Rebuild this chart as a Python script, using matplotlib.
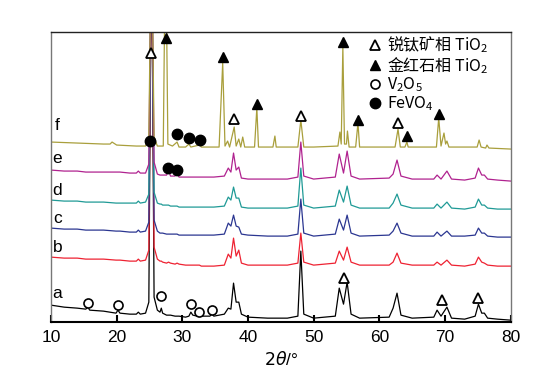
import numpy as np
import matplotlib
matplotlib.use('Agg')
import matplotlib.pyplot as plt
from matplotlib.lines import Line2D

plt.rcParams['font.family'] = ['Liberation Sans', 'Noto Sans CJK SC', 'DejaVu Sans']
plt.rcParams['mathtext.default'] = 'regular'

# 2theta grid shared by samples a-e (anatase pattern)
x_ana = [10, 12, 14, 15.3, 15.6, 15.9, 18, 19.9, 20.2, 20.5, 22, 23.0, 23.3, 23.6, 24.4, 24.9,
         25.3, 25.7, 26.2, 26.6, 26.8, 27.0, 27.6, 27.9, 28.2, 28.9, 29.2, 29.5, 30.5, 31.0,
         31.3, 31.6, 32.3, 32.6, 32.9, 34.2, 34.5, 34.8, 36.4, 37.0, 37.4, 37.8, 38.2, 38.6,
         39.0, 40, 43, 46, 47.6, 48.05, 48.5, 50, 53.3, 53.9, 54.55, 55.1, 55.7, 57, 61.5,
         62.1, 62.7, 63.3, 65, 68.3, 68.8, 69.4, 70.3, 71.0, 73, 74.6, 75.1, 75.6, 76.0,
         76.5, 78, 80]

y_a = [17, 15, 14, 13, 15, 12, 11, 9, 12, 9, 8, 8, 10, 8, 9, 20,
       400, 25, 12, 10, 14, 9, 7, 7, 7, 6, 6, 6, 5, 6,
       10, 7, 6, 8, 6, 6, 8, 6, 8, 14, 13, 39, 20, 20,
       8, 5, 4, 4, 6, 71, 8, 4, 6, 34, 18, 40, 8, 4, 5,
       14, 29, 7, 4, 5, 12, 6, 15, 4, 3, 6, 18, 9, 9,
       4, 3, 2]

y_b = [65, 64, 64, 63, 63, 63, 63, 62, 62, 62, 61, 61, 63, 61, 62, 72,
       400, 75, 63, 61, 61, 60, 59, 60, 59, 58, 59, 58, 57, 57,
       57, 57, 57, 57, 56, 56, 56, 56, 57, 68, 64, 84, 66, 72,
       59, 57, 57, 57, 59, 89, 60, 57, 59, 71, 62, 75, 60, 57, 57,
       60, 69, 59, 57, 57, 60, 57, 62, 57, 56, 58, 65, 60, 59,
       57, 56, 56]

y_c = [94, 93, 93, 92, 92, 92, 92, 91, 91, 91, 90, 90, 92, 90, 91, 100,
       400, 102, 91, 89, 89, 89, 88, 88, 88, 88, 88, 87, 87, 87,
       87, 87, 87, 87, 87, 87, 87, 87, 88, 99, 96, 107, 96, 95,
       88, 87, 86, 86, 88, 123, 89, 86, 88, 103, 92, 107, 89, 86, 87,
       91, 99, 89, 86, 86, 90, 86, 91, 86, 86, 87, 94, 89, 89,
       86, 85, 85]

y_d = [122, 121, 121, 120, 120, 120, 120, 119, 119, 119, 119, 119, 121, 119, 120, 128,
       400, 130, 119, 118, 118, 117, 117, 117, 116, 116, 116, 115, 115, 115,
       115, 115, 115, 115, 115, 115, 115, 115, 116, 125, 122, 135, 124, 124,
       115, 114, 114, 114, 116, 154, 117, 114, 116, 132, 120, 136, 117, 114, 114,
       119, 128, 117, 114, 114, 118, 114, 120, 114, 113, 115, 123, 117, 117,
       114, 113, 113]

y_e = [152, 151, 151, 150, 150, 150, 150, 150, 150, 150, 149, 149, 151, 149, 149, 158,
       400, 160, 148, 147, 147, 147, 147, 152, 146, 146, 150, 145, 145, 145,
       145, 145, 145, 145, 145, 145, 145, 145, 146, 154, 150, 169, 152, 155,
       144, 143, 143, 143, 145, 180, 146, 143, 145, 168, 149, 171, 146, 143, 144,
       148, 162, 146, 143, 143, 147, 143, 151, 143, 142, 144, 154, 147, 147,
       143, 142, 141]

# sample f (mixed anatase/rutile + FeVO4)
x_f = [10, 14, 18, 19.0, 19.3, 20, 23, 24.4, 24.9, 25.3, 25.7, 26.2, 27.1, 27.45, 27.8,
       28.5, 29.2, 29.5, 30.5, 31.0, 31.3, 32.6, 32.9, 35.6, 36.15, 36.5, 36.9, 37.2,
       37.9, 38.2, 38.6, 38.9, 39.2, 39.5, 41.0, 41.35, 41.6, 43.8, 44.1, 44.3, 47.6,
       48.05, 48.5, 50, 53.7, 54.0, 54.2, 54.45, 54.7, 55.0, 55.15, 55.4, 56.4, 56.75,
       57.0, 62.4, 62.85, 63.2, 63.9, 64.2, 64.4, 68.7, 69.05, 69.4, 69.85, 70.1, 70.3,
       70.6, 74.9, 75.2, 75.5, 76.2, 76.4, 76.7, 80]
y_f = [180, 179, 178, 178, 180, 177, 176, 176, 185, 400, 185, 176, 176, 400, 178,
       176, 180, 175, 175, 178, 175, 177, 175, 175, 259, 176, 181, 175,
       195, 176, 183, 175, 185, 175, 175, 214, 175, 175, 186, 175, 175,
       202, 175, 175, 176, 190, 178, 275, 178, 178, 191, 175, 175, 199,
       175, 175, 193, 175, 175, 180, 175, 175, 204, 176, 189, 178, 181,
       175, 175, 182, 175, 174, 177, 174, 173]

# peak markers (2theta, height)
f_ana_x = [25.3, 37.9, 48.05, 62.85]
f_ana_y = [269, 203, 206, 199]
f_rut_x = [27.5, 36.15, 41.35, 54.45, 56.75, 64.2, 69.05]
f_rut_y = [284, 265, 218, 280, 202, 186, 208]
f_fev_x = [25.1, 29.2, 31.0, 32.7]
f_fev_y = [181, 188, 184, 182]
e_fev_x = [27.8, 29.2]
e_fev_y = [154, 152]
a_v2o5_x = [15.6, 20.2, 26.8, 31.3, 32.6, 34.5]
a_v2o5_y = [19, 17, 26, 18, 10, 12]
a_ana_x = [54.7, 69.6, 75.1]
a_ana_y = [44, 22, 24]

labels = ['a', 'b', 'c', 'd', 'e', 'f']
label_y = [29, 75, 104, 132, 164, 197]
colors = ['black', '#ee2232', '#2b3691', '#1f9a96', '#b0228f', '#a99f3c']

fig = plt.figure(figsize=(5.46, 3.79), dpi=100)
ax = fig.add_axes([0.0934, 0.150, 0.8418, 0.7656])

series = [y_a, y_b, y_c, y_d, y_e]
for ys, c in zip(series, colors[:5]):
    ax.plot(x_ana, ys, color=c, lw=0.9)
ax.plot(x_f, y_f, color=colors[5], lw=0.9)

tri_open = dict(marker='^', ls='none', mfc='white', mec='black', mew=1.3, ms=7)
tri_fill = dict(marker='^', ls='none', mfc='black', mec='black', ms=7.5)
circ_open = dict(marker='o', ls='none', mfc='white', mec='black', mew=1.2, ms=6.5)
circ_fill = dict(marker='o', ls='none', mfc='black', mec='black', ms=7.5)

ax.plot(f_ana_x, f_ana_y, **tri_open)
ax.plot(f_rut_x, f_rut_y, clip_on=False, **tri_fill)
ax.plot(f_fev_x, f_fev_y, **circ_fill)
ax.plot(e_fev_x, e_fev_y, **circ_fill)
ax.plot(a_v2o5_x, a_v2o5_y, **circ_open)
ax.plot(a_ana_x, a_ana_y, **tri_open)

for lab, ly in zip(labels, label_y):
    ax.text(11.0, ly, lab, fontsize=12.5, ha='center', va='center')

ax.set_xlim(10, 80)
ax.set_ylim(0, 290)
ax.set_xticks([10, 20, 30, 40, 50, 60, 70, 80])
ax.set_yticks([])
ax.tick_params(axis='x', direction='in', length=5, width=1.5, labelsize=12.5, pad=6)
for s in ['left', 'right', 'top']:
    ax.spines[s].set_color('#777777')
    ax.spines[s].set_linewidth(1.0)
ax.spines['top'].set_color('#222222')
ax.spines['bottom'].set_linewidth(1.5)
ax.set_xlabel(r'$\mathit{2\theta}$/°', fontsize=12.5, labelpad=3)

handles = [
    Line2D([], [], **tri_open),
    Line2D([], [], **tri_fill),
    Line2D([], [], **circ_open),
    Line2D([], [], **circ_fill),
]
names = ['锐钛矿相 TiO$_2$', '金红石相 TiO$_2$', 'V$_2$O$_5$', 'FeVO$_4$']
leg = ax.legend(handles, names, loc='upper left', bbox_to_anchor=(0.678, 1.02),
                frameon=False, handlelength=0.6, handletextpad=0.4,
                labelspacing=0.0, borderpad=0.0,
                prop={'family': 'Noto Sans CJK SC', 'size': 11.5})

fig.savefig('out.png', dpi=100)
